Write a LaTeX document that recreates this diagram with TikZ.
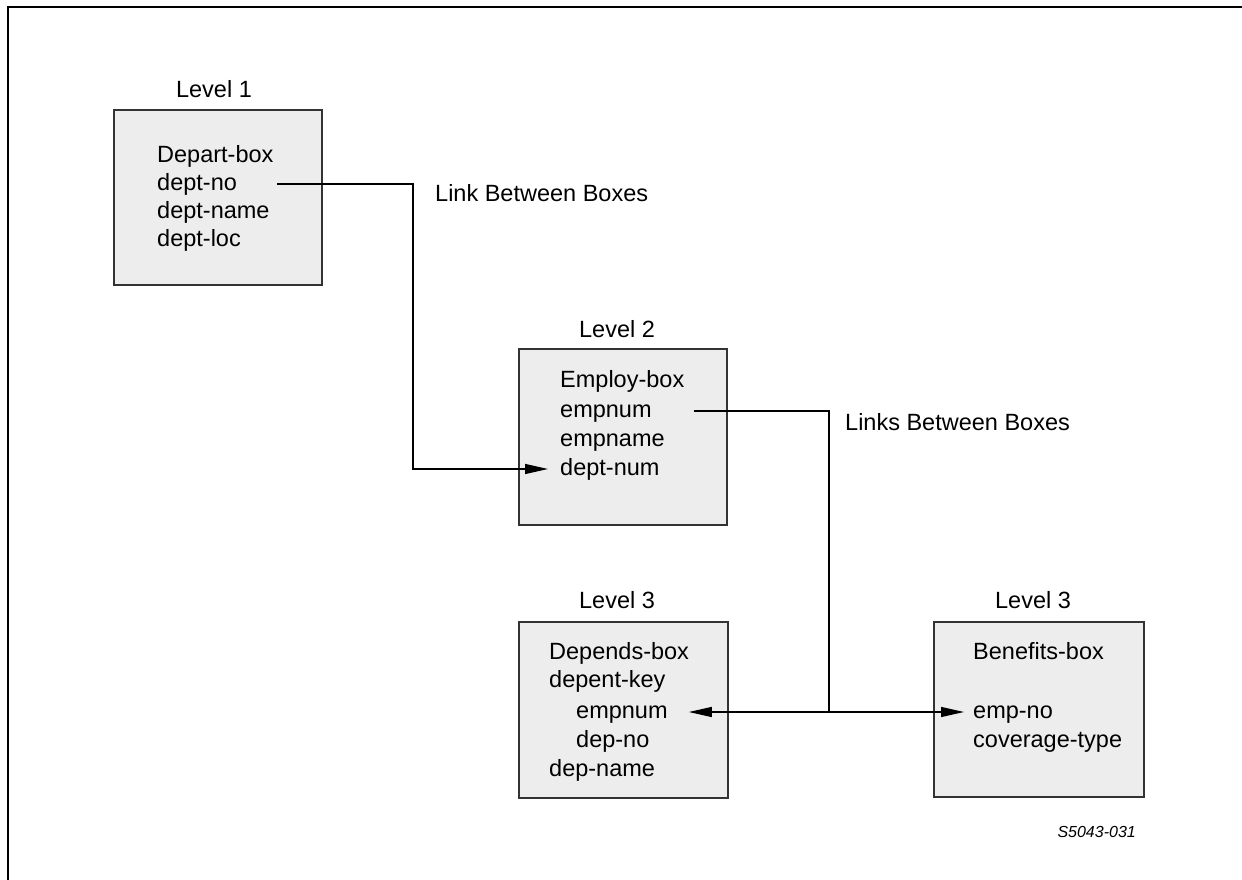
\documentclass[tikz,border=0pt]{standalone}
\usepackage{fontspec}
\setmainfont{Liberation Sans}
\usetikzlibrary{arrows.meta}
\begin{document}
\begin{tikzpicture}[x=1pt,y=-1pt,
  txt/.style={font=\fontsize{23.5}{28}\selectfont, inner sep=0},
  record/.style={draw=black!80, line width=1.8pt, fill=black!7, inner sep=0, anchor=north west},
  lvl/.style={txt, anchor=base},
  row/.style={txt, anchor=west, text height=17pt, text depth=5pt},
  caption/.style={txt, anchor=base west},
  link/.style={draw=black, line width=1.3pt},
  tip/.style={-{Triangle[length=23pt,width=10pt]}},
  frame/.style={line width=2.6pt, line cap=rect}]
\useasboundingbox (0,0) rectangle (1242,880);

% page frame (top and left rules)
\draw[frame] (8,880) -- (8,7) -- (1242,7);

% record boxes
\node[record, minimum width=208pt, minimum height=175pt] (depart)   at (113,109) {};
\node[record, minimum width=208pt, minimum height=176pt] (employ)   at (518,348) {};
\node[record, minimum width=209pt, minimum height=176pt] (depends)  at (518,621) {};
\node[record, minimum width=210pt, minimum height=175pt] (benefits) at (933,621) {};

% level headings
\node[lvl] (lev1)  at (214,98)  {Level 1};
\node[lvl] (lev2)  at (617,337) {Level 2};
\node[lvl] (lev3a) at (617,608) {Level 3};
\node[lvl] (lev3b) at (1033,608) {Level 3};

% Depart-box fields
\node[row] (dptbox)  at (157,156) {Depart-box};
\node[row] (deptno)  at (157,184) {dept-no};
\node[row] (deptnm)  at (157,212) {dept-name};
\node[row] (deptloc) at (157,240) {dept-loc};

% Employ-box fields
\node[row] (empbox)  at (560,381) {Employ-box};
\node[row] (empnum)  at (560,411) {empnum};
\node[row] (empname) at (560,440) {empname};
\node[row] (deptnum) at (560,469) {dept-num};

% Depends-box fields
\node[row] (depbox)  at (549,653) {Depends-box};
\node[row] (depkey)  at (549,681) {depent-key};
\node[row] (dempnum) at (576,712) {empnum};
\node[row] (depno)   at (576,741) {dep-no};
\node[row] (depname) at (549,770) {dep-name};

% Benefits-box fields
\node[row] (benbox)  at (973,653) {Benefits-box};
\node[row] (empno)   at (973,712) {emp-no};
\node[row] (covtype) at (973,741) {coverage-type};

% link captions
\node[caption] (link1) at (435,201) {Link Between Boxes};
\node[caption] (link2) at (845,430) {Links Between Boxes};

% figure number
\node[txt, font=\fontsize{16}{19}\selectfont\itshape, anchor=base east] (fignum) at (1136,837) {S5043-031};

% bend points of the links
\coordinate (j1) at (413,184);
\coordinate (j2) at (829,411);
\coordinate (j3) at (829,712);

% dept-no -> dept-num
\draw[link, tip] ([xshift=40pt]deptno.east) -- (j1) |- ([xshift=-12pt]deptnum.west);

% empnum -> empnum / emp-no
\draw[link] ([xshift=42pt]empnum.east) -- (j2) -- (j3);
\draw[link, tip] (j3) -- ([xshift=21pt]dempnum.east);
\draw[link, tip] (j3) -- ([xshift=-9pt]empno.west);
\end{tikzpicture}
\end{document}
